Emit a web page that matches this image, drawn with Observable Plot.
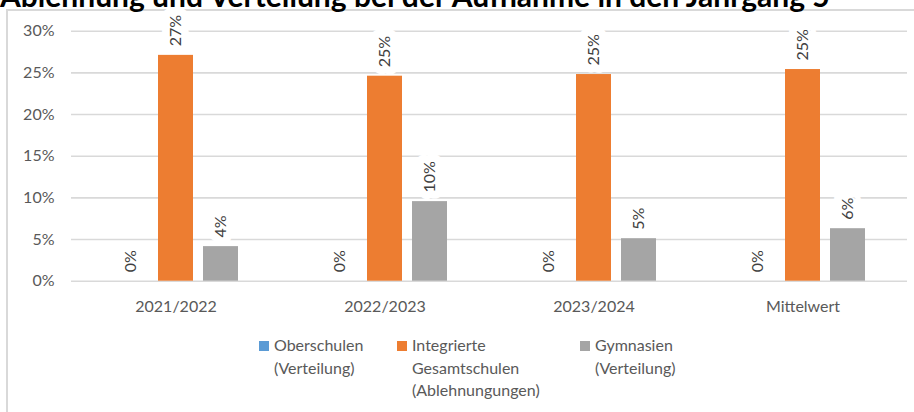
<!DOCTYPE html>
<html>
<head>
<meta charset="utf-8">
<script src="https://cdn.jsdelivr.net/npm/d3@7"></script>
<script src="https://cdn.jsdelivr.net/npm/@observablehq/plot@0.6"></script>
<style>
  html, body { margin: 0; padding: 0; background: #fff; overflow: hidden; }
  #wrap { position: relative; width: 914px; height: 412px; font-family: Lato, sans-serif; }
  #frame { position: absolute; left: 6px; top: 9px; width: 1000px; height: 500px; border: 2px solid #d9d9d9; box-sizing: border-box; }
  #title { position: absolute; left: 0; top: -23px; font-weight: bold; font-size: 30px; line-height: 36px; color: #000; white-space: nowrap; }
  #chart { position: absolute; left: 0; top: 0; }
  .leg { position: absolute; top: 334px; font-size: 16px; line-height: 22.5px; color: #595959; white-space: pre-line; }
  .sw { position: absolute; top: 341px; width: 10px; height: 10px; }
</style>
</head>
<body>
<div id="wrap">
  <div id="frame"></div>
  <div id="chart"></div>
  <div id="title"></div>
</div>
<script>
const title = "Ablehnung und Verteilung bei der Aufnahme in den Jahrgang 5";
const years = ["2021/2022", "2022/2023", "2023/2024", "Mittelwert"];
const series = ["Oberschulen\n(Verteilung)", "Integrierte\nGesamtschulen\n(Ablehnungungen)", "Gymnasien\n(Verteilung)"];
const colors = ["#5b9bd5", "#ed7d31", "#a5a5a5"];
const oberschulen = [0, 0, 0, 0];
const gesamtschulen = [27.1, 24.6, 24.8, 25.4];
const gymnasien = [4.15, 9.55, 5.1, 6.3];
const yTicks = [0, 5, 10, 15, 20, 25, 30];

const values = [oberschulen, gesamtschulen, gymnasien];
const data = [];
years.forEach((yr, i) => series.forEach((s, j) => data.push({year: yr, series: s, value: values[j][i]})));

// title
const t = document.getElementById("title");
t.textContent = title;

const H = 320;
const chart = Plot.plot({
  width: 914,
  height: H,
  marginLeft: 70,
  marginRight: 7,
  marginTop: 30.7,
  marginBottom: H - 280.7,
  style: {fontFamily: "Lato, sans-serif", fontSize: "16px", color: "#595959", background: "transparent"},
  fx: {domain: years, padding: 0, label: null, tickSize: 0, tickPadding: 19},
  x: {domain: series, axis: null, paddingInner: 0.217, paddingOuter: 0.883},
  y: {domain: [0, 30], ticks: yTicks, tickFormat: d => d + "%", label: null, tickSize: 0, tickPadding: 17},
  color: {domain: series, range: colors},
  marks: [
    Plot.gridY(yTicks, {stroke: "#d9d9d9", strokeOpacity: 1, strokeWidth: 1.6}),
    Plot.barY(data, {fx: "year", x: "series", y: "value", fill: "series"}),
    Plot.text(data, {
      fx: "year", x: "series", y: "value",
      text: d => Math.round(d.value) + "%",
      rotate: -90, textAnchor: "start", lineAnchor: "middle", dy: -9,
      fill: "#404040", stroke: "white", strokeWidth: 16, fontSize: 16
    })
  ]
});
document.getElementById("chart").appendChild(chart);

// legend
const wrap = document.getElementById("wrap");
const swX = [259, 397, 580];
const txX = [274, 412, 595];
series.forEach((s, i) => {
  const sw = document.createElement("div");
  sw.className = "sw"; sw.style.left = swX[i] + "px"; sw.style.background = colors[i];
  wrap.appendChild(sw);
  const tx = document.createElement("div");
  tx.className = "leg"; tx.style.left = txX[i] + "px"; tx.textContent = s;
  wrap.appendChild(tx);
});
</script>
</body>
</html>
